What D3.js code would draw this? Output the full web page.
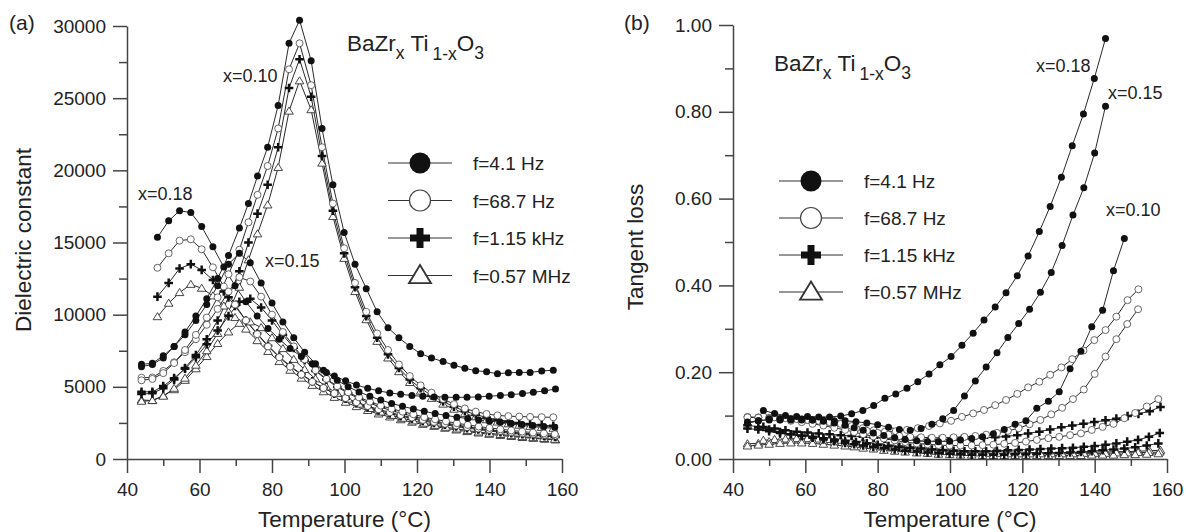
<!DOCTYPE html>
<html>
<head>
<meta charset="utf-8">
<script src="https://cdn.jsdelivr.net/npm/d3@7"></script>
<style>
  html, body { margin: 0; padding: 0; background: #fff; }
  svg { display: block; }
</style>
</head>
<body>
<svg id="viz"></svg>
<script>
// BaZrxTi1-xO3 - dielectric constant (a) and tangent loss (b) vs temperature

// Temperature grids for each composition (°C)
const temps10 = [44,47,50,53,56,59,62,65,68,71,73.5,76,78.8,81.7,84.7,87.6,90.8,93.8,96.8,99.9,102.9,106,109,112,115,118,121,124,127.2,130.2,133.2,136.2,139.2,142.2,145.2,148.2,151.2,154.4,157.6];
const temps15 = [44,47,50,53,56,59,62,65,68,71,74,77,80,83,86,89,92,95,98,101,104,107,110,113,116,119,122,125,128,131,134,137,140,143,146,149,152,155,158];
const temps18 = [48.4,51.5,54.5,57.6,60.6,63.7,66.7,69.8,72.8,75.9,78.9,82,85,88.1,91.1,94.2,97.2,100.3,103.3,106.4,109.4,112.5,115.5,118.6,121.6,124.7,127.7,130.8,133.8,136.9,139.9,143,146,149.1,152.1,155.2,158.2];

// Dielectric constant, panel (a)
const eps10_f = [6400,6550,7000,7800,8800,9900,11100,12500,14100,16000,17700,19600,21600,24500,28800,30400,27600,22900,19000,15700,13500,11800,10200,9100,8400,7800,7300,7000,6750,6500,6280,6120,6050,5900,5980,6000,6000,6100,6150];
const eps10_o = [5450,5550,5950,6650,7550,8600,9800,11200,12800,14500,16400,18300,20300,22900,27000,28800,25900,21600,17700,14600,12200,10200,8700,7550,6550,5750,5100,4600,4150,3800,3500,3280,3120,3020,2970,2940,2920,2900,2890];
const eps10_c = [4500,4550,4900,5500,6300,7200,8300,9600,11200,13000,15000,17000,19000,21600,25700,27700,25100,21000,17200,14250,11900,9900,8400,7250,6300,5500,4900,4400,3980,3620,3320,3080,2880,2720,2600,2500,2420,2350,2300];
const eps10_t = [4000,4050,4350,4900,5600,6500,7500,8700,10200,11900,13800,15600,17600,20200,24100,26200,24200,20500,16800,13900,11600,9650,8150,7000,6050,5300,4700,4200,3800,3450,3150,2920,2720,2560,2440,2340,2260,2190,2130];

const eps15_f = [6560,6630,7150,7800,8600,9600,10700,12000,13500,14250,13600,12200,10800,9500,8400,7400,6600,6000,5450,5000,4650,4350,4080,3850,3650,3470,3300,3150,3020,2900,2800,2700,2620,2540,2460,2390,2320,2260,2200];
const eps15_o = [5630,5650,6100,6700,7400,8300,9300,10400,11600,12600,12300,11250,10000,8800,7800,6900,6150,5550,5050,4620,4270,3970,3700,3480,3280,3100,2900,2750,2610,2480,2360,2250,2150,2060,1980,1900,1830,1770,1720];
const eps15_c = [4660,4650,5050,5600,6250,7050,7950,8900,9900,10900,11100,10500,9600,8600,7700,6850,6100,5500,4980,4550,4180,3860,3590,3350,3140,2950,2780,2620,2480,2350,2230,2120,2020,1930,1840,1760,1690,1620,1560];
const eps15_t = [4090,4050,4390,4800,5450,6250,7100,8000,8800,9400,9500,9100,8400,7650,6900,6200,5550,5000,4550,4150,3800,3500,3250,3020,2820,2640,2480,2330,2200,2080,1970,1870,1780,1700,1620,1550,1480,1420,1360];

const eps18_f = [15360,16500,17200,17070,16100,14700,13300,12000,10900,9900,9050,8300,7650,7100,6600,6150,5750,5420,5130,4900,4720,4580,4480,4400,4340,4300,4280,4270,4280,4300,4350,4400,4460,4530,4620,4720,4850];
const eps18_o = [13250,14250,15130,15220,14530,13280,11950,10700,9600,8650,7800,7050,6400,5850,5350,4920,4550,4220,3930,3670,3440,3230,3040,2870,2710,2570,2440,2320,2210,2110,2020,1940,1860,1790,1730,1670,1620];
const eps18_c = [11250,12200,13200,13500,13100,12400,11600,10600,9600,8700,7850,7100,6450,5880,5380,4930,4530,4180,3880,3610,3370,3160,2970,2800,2640,2500,2370,2250,2140,2040,1950,1860,1780,1710,1640,1580,1520];
const eps18_t = [9860,10790,11530,12100,11830,11300,10600,9800,9000,8200,7450,6750,6150,5600,5100,4660,4270,3930,3630,3360,3120,2910,2720,2550,2400,2260,2130,2010,1900,1800,1710,1630,1560,1490,1430,1370,1320];

// Tangent loss, panel (b)
const tan10_f = [0.082,0.088,0.092,0.093,0.093,0.092,0.090,0.087,0.083,0.078,0.072,0.066,0.060,0.054,0.049,0.045,0.042,0.040,0.040,0.041,0.044,0.047,0.051,0.058,0.068,0.080,0.088,0.117,0.133,0.155,0.208,0.248,0.305,0.343,0.434,0.508];
const tan10_o = [0.096,0.095,0.093,0.091,0.088,0.085,0.081,0.077,0.072,0.067,0.062,0.057,0.052,0.047,0.043,0.039,0.036,0.034,0.032,0.031,0.031,0.031,0.032,0.033,0.035,0.037,0.040,0.044,0.048,0.051,0.055,0.059,0.067,0.074,0.081,0.094,0.106,0.121,0.138];
const tan10_c = [0.078,0.074,0.068,0.062,0.057,0.053,0.049,0.045,0.041,0.037,0.034,0.031,0.028,0.025,0.022,0.019,0.017,0.015,0.013,0.012,0.011,0.010,0.010,0.010,0.010,0.011,0.011,0.012,0.013,0.014,0.015,0.016,0.018,0.020,0.022,0.024,0.027,0.031,0.036];
const tan10_t = [0.030,0.032,0.034,0.036,0.037,0.037,0.036,0.034,0.032,0.030,0.028,0.025,0.023,0.020,0.018,0.016,0.014,0.013,0.011,0.010,0.009,0.009,0.008,0.008,0.008,0.008,0.008,0.008,0.008,0.008,0.008,0.008,0.009,0.009,0.009,0.010,0.010,0.011,0.012];

const tan15_f = [0.085,0.088,0.090,0.090,0.090,0.090,0.090,0.089,0.088,0.088,0.086,0.083,0.079,0.073,0.068,0.066,0.070,0.080,0.093,0.112,0.145,0.180,0.212,0.245,0.280,0.312,0.345,0.384,0.430,0.492,0.562,0.625,0.705,0.813];
const tan15_o = [0.097,0.096,0.095,0.093,0.091,0.089,0.086,0.083,0.079,0.075,0.070,0.065,0.060,0.056,0.053,0.051,0.050,0.049,0.049,0.050,0.051,0.053,0.056,0.060,0.065,0.071,0.080,0.090,0.103,0.118,0.138,0.160,0.196,0.236,0.276,0.311,0.345];
const tan15_c = [0.070,0.068,0.064,0.060,0.057,0.054,0.051,0.048,0.045,0.042,0.039,0.036,0.033,0.030,0.028,0.026,0.024,0.022,0.020,0.019,0.018,0.018,0.018,0.019,0.020,0.021,0.022,0.023,0.024,0.025,0.026,0.028,0.030,0.033,0.036,0.040,0.044,0.051,0.060];
const tan15_t = [0.035,0.036,0.040,0.042,0.043,0.043,0.042,0.041,0.039,0.037,0.034,0.031,0.028,0.026,0.024,0.022,0.020,0.018,0.017,0.016,0.015,0.014,0.013,0.013,0.012,0.012,0.012,0.012,0.012,0.012,0.012,0.013,0.013,0.013,0.014,0.014,0.015,0.015,0.016];

const tan18_f = [0.112,0.105,0.100,0.098,0.098,0.097,0.097,0.099,0.104,0.112,0.123,0.140,0.150,0.163,0.178,0.196,0.217,0.236,0.262,0.290,0.320,0.350,0.383,0.422,0.468,0.524,0.582,0.649,0.722,0.795,0.877,0.969];
const tan18_o = [0.098,0.096,0.094,0.092,0.090,0.088,0.085,0.081,0.076,0.071,0.066,0.063,0.064,0.067,0.071,0.076,0.082,0.088,0.097,0.105,0.113,0.124,0.136,0.150,0.165,0.178,0.194,0.211,0.230,0.250,0.274,0.297,0.328,0.366,0.391];
const tan18_c = [0.074,0.070,0.066,0.063,0.061,0.059,0.057,0.055,0.053,0.051,0.049,0.047,0.046,0.045,0.044,0.044,0.044,0.045,0.046,0.047,0.049,0.050,0.052,0.055,0.059,0.063,0.068,0.073,0.077,0.081,0.085,0.089,0.093,0.099,0.104,0.110,0.120];
const tan18_t = [0.043,0.045,0.046,0.047,0.047,0.046,0.045,0.043,0.041,0.039,0.036,0.034,0.031,0.029,0.027,0.025,0.023,0.022,0.020,0.019,0.018,0.017,0.016,0.016,0.015,0.015,0.015,0.015,0.015,0.015,0.016,0.016,0.017,0.017,0.018,0.019,0.020];

// Legend
const markerTypes = ["filled", "open", "cross", "triangle"];
const legendLabels = ["f=4.1 Hz", "f=68.7 Hz", "f=1.15 kHz", "f=0.57 MHz"];

const xTicks = [40, 60, 80, 100, 120, 140, 160];
const xMinor = [50, 70, 90, 110, 130, 150];
const epsTicks = [0, 5000, 10000, 15000, 20000, 25000, 30000];
const epsMinor = [2500, 7500, 12500, 17500, 22500, 27500];
const tanTicks = [0, 0.2, 0.4, 0.6, 0.8, 1.0];
const tanMinor = [0.1, 0.3, 0.5, 0.7, 0.9];

const FONT = "'Liberation Sans', Arial, Helvetica, sans-serif";
const INK = "#222";
const AXIS = "#444";

const width = 1186, height = 532;
const svg = d3.select("#viz").attr("width", width).attr("height", height);

// Build series list (draw low frequency last so filled dots sit on top)
function series(temps, vals, type) {
  return { type, points: vals.map((v, i) => [temps[i], v]) };
}

const epsSeries = [
  series(temps18, eps18_t, "triangle"), series(temps15, eps15_t, "triangle"), series(temps10, eps10_t, "triangle"),
  series(temps18, eps18_c, "cross"), series(temps15, eps15_c, "cross"), series(temps10, eps10_c, "cross"),
  series(temps18, eps18_o, "open"), series(temps15, eps15_o, "open"), series(temps10, eps10_o, "open"),
  series(temps18, eps18_f, "filled"), series(temps15, eps15_f, "filled"), series(temps10, eps10_f, "filled")
];
const tanSeries = [
  series(temps18, tan18_t, "triangle"), series(temps15, tan15_t, "triangle"), series(temps10, tan10_t, "triangle"),
  series(temps18, tan18_c, "cross"), series(temps15, tan15_c, "cross"), series(temps10, tan10_c, "cross"),
  series(temps18, tan18_o, "open"), series(temps15, tan15_o, "open"), series(temps10, tan10_o, "open"),
  series(temps18, tan18_f, "filled"), series(temps15, tan15_f, "filled"), series(temps10, tan10_f, "filled")
];

// Draw markers of one type at a list of [x, y] pixel points
function drawMarkers(g, type, pts, big) {
  if (type === "filled" || type === "open") {
    g.selectAll(null).data(pts).join("circle")
      .attr("cx", d => d[0]).attr("cy", d => d[1])
      .attr("r", big ? 10.5 : 3.5)
      .attr("fill", type === "filled" ? "#111" : "#fff")
      .attr("stroke", type === "filled" ? "none" : "#444")
      .attr("stroke-width", big ? 1.2 : 0.8);
  } else if (type === "cross") {
    const s = big ? 10 : 4.3, w = big ? 7 : 2.5;
    g.selectAll(null).data(pts).join("path")
      .attr("d", d => `M${d[0] - s},${d[1]}H${d[0] + s}M${d[0]},${d[1] - s}V${d[1] + s}`)
      .attr("stroke", "#111").attr("stroke-width", w).attr("fill", "none");
  } else {
    const s = big ? 11 : 4.3;
    g.selectAll(null).data(pts).join("path")
      .attr("d", d => `M${d[0]},${d[1] - s * 0.95}L${d[0] + s},${d[1] + s * 0.7}L${d[0] - s},${d[1] + s * 0.7}Z`)
      .attr("fill", "#fff").attr("stroke", "#333").attr("stroke-width", big ? 1.8 : 0.9);
  }
}

function styleAxis(ax) {
  ax.selectAll("path, line").attr("stroke", AXIS).attr("stroke-width", 1.5);
  ax.selectAll("text").attr("font-size", 19).attr("font-family", FONT).attr("fill", INK);
  ax.attr("font-size", 19).attr("font-family", FONT);
}

function drawPanel(p) {
  const x = d3.scaleLinear().domain([40, 160]).range(p.xRange);
  const y = d3.scaleLinear().domain(p.yDomain).range(p.yRange);
  const g = svg.append("g");

  // minor ticks
  g.append("g").attr("transform", `translate(0,${p.yRange[0]})`)
    .call(d3.axisBottom(x).tickValues(xMinor).tickSize(7).tickSizeOuter(0).tickFormat(""))
    .call(styleAxis).select(".domain").remove();
  g.append("g").attr("transform", `translate(${p.xRange[0]},0)`)
    .call(d3.axisLeft(y).tickValues(p.minor).tickSize(8).tickSizeOuter(0).tickFormat(""))
    .call(styleAxis).select(".domain").remove();

  // major axes
  g.append("g").attr("transform", `translate(0,${p.yRange[0]})`)
    .call(d3.axisBottom(x).tickValues(xTicks).tickSize(14).tickSizeOuter(0).tickPadding(10).tickFormat(d3.format("d")))
    .call(styleAxis);
  g.append("g").attr("transform", `translate(${p.xRange[0]},0)`)
    .call(d3.axisLeft(y).tickValues(p.ticks).tickSize(14).tickSizeOuter(0).tickPadding(7).tickFormat(p.fmt))
    .call(styleAxis);

  // data
  const line = d3.line().x(d => x(d[0])).y(d => y(d[1]));
  const plot = g.append("g");
  p.data.forEach(s => {
    plot.append("path").datum(s.points).attr("d", line)
      .attr("fill", "none").attr("stroke", "#2a2a2a").attr("stroke-width", 1);
  });
  p.data.forEach(s => {
    drawMarkers(plot.append("g"), s.type, s.points.map(d => [x(d[0]), y(d[1])]), false);
  });

  // legend
  const lg = g.append("g");
  markerTypes.forEach((t, i) => {
    const cy = p.legend.y + i * p.legend.dy;
    lg.append("line").attr("x1", p.legend.x - 32).attr("x2", p.legend.x + 32)
      .attr("y1", cy).attr("y2", cy).attr("stroke", "#333").attr("stroke-width", 1.2);
    drawMarkers(lg.append("g"), t, [[p.legend.x, cy]], true);
    lg.append("text").attr("x", p.legend.x + 53).attr("y", cy + 7)
      .attr("font-family", FONT).attr("font-size", 19).attr("fill", INK).text(legendLabels[i]);
  });

  // formula title
  const t = g.append("text").attr("x", p.title[0]).attr("y", p.title[1])
    .attr("font-family", FONT).attr("font-size", 22.5).attr("fill", INK);
  t.append("tspan").text("BaZr");
  t.append("tspan").attr("dy", 8).attr("font-size", 17.5).text("x");
  t.append("tspan").attr("dy", -8).attr("dx", 6).text("Ti");
  t.append("tspan").attr("dy", 9).attr("dx", 4).attr("font-size", 17.5).text("1-x");
  t.append("tspan").attr("dy", -9).text("O");
  t.append("tspan").attr("dy", 8).attr("font-size", 17.5).text("3");

  // composition labels
  p.labels.forEach(l => {
    g.append("text").attr("x", l[1]).attr("y", l[2])
      .attr("font-family", FONT).attr("font-size", 18).attr("fill", INK).text(l[0]);
  });

  // panel letter
  g.append("text").attr("x", p.letter[1]).attr("y", p.letter[2])
    .attr("font-family", FONT).attr("font-size", 21).attr("fill", INK).text(p.letter[0]);

  // axis titles
  g.append("text").attr("x", (p.xRange[0] + p.xRange[1]) / 2).attr("y", 527)
    .attr("text-anchor", "middle").attr("font-family", FONT).attr("font-size", 22.5)
    .attr("fill", INK).text("Temperature (°C)");
  g.append("text")
    .attr("transform", `translate(${p.yTitle[0]},${p.yTitle[1]}) rotate(-90)`)
    .attr("text-anchor", "middle").attr("font-family", FONT).attr("font-size", 22.5)
    .attr("fill", INK).text(p.yTitle[2]);
}

drawPanel({
  xRange: [127, 562], yDomain: [0, 30000], yRange: [459, 26],
  ticks: epsTicks, minor: epsMinor, fmt: d3.format("d"),
  data: epsSeries,
  legend: { x: 420, y: 163, dy: 37.5 },
  title: [347, 51],
  labels: [["x=0.10", 223, 82], ["x=0.18", 138, 200], ["x=0.15", 265, 267]],
  letter: ["(a)", 9, 30],
  yTitle: [31, 240, "Dielectric constant"]
});

drawPanel({
  xRange: [733, 1167], yDomain: [0, 1], yRange: [459, 25],
  ticks: tanTicks, minor: tanMinor, fmt: d3.format(".2f"),
  data: tanSeries,
  legend: { x: 811, y: 181, dy: 37 },
  title: [774, 71],
  labels: [["x=0.18", 1036, 72], ["x=0.15", 1108, 99], ["x=0.10", 1106, 216]],
  letter: ["(b)", 624, 30],
  yTitle: [643, 247, "Tangent loss"]
});
</script>
</body>
</html>
